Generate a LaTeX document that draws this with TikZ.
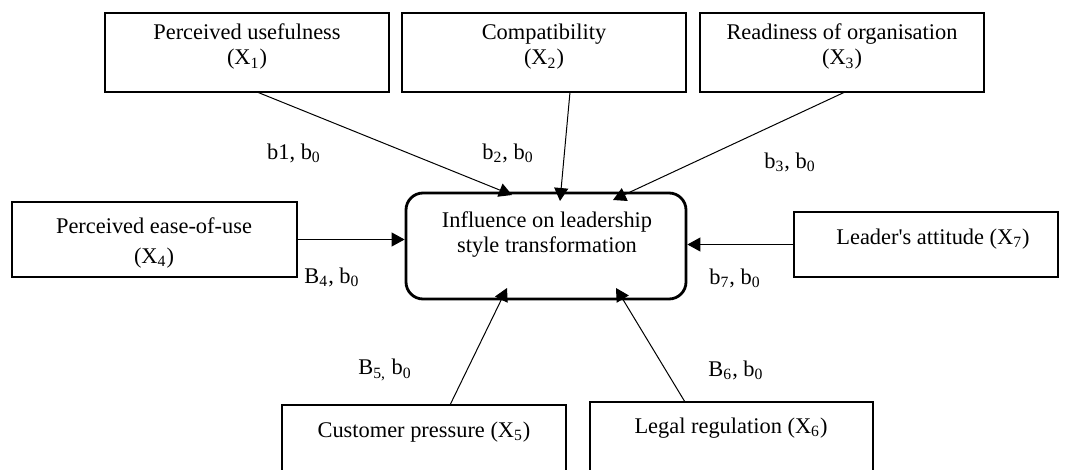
\documentclass[tikz,border=0pt]{standalone}
\usepackage{fontspec}
\setmainfont{Liberation Serif}[Ligatures=TeXOff]
\usetikzlibrary{arrows.meta,fit}
\begin{document}
\begin{tikzpicture}[x=0.5pt,y=-0.5pt,
  box/.style={draw, line width=0.9pt, inner sep=0pt},
  core/.style={draw, line width=1.4pt, rounded corners=8.5pt, inner sep=0pt},
  txt/.style={inner sep=0pt, font=\fontsize{11.2}{12.5}\selectfont, align=center},
  arr/.style={-{Triangle[length=6.5pt,width=7pt]}, line width=0.5pt}]
\useasboundingbox (0,0) rectangle (1065,470);
\clip (0,0) rectangle (1065,470);
% boxes
\node[box, fit={(105,13) (389,92)}] (b1) {};
\node[box, fit={(402,13) (686,92)}] (b2) {};
\node[box, fit={(700,13) (984,92)}] (b3) {};
\node[box, fit={(12,202) (297,277)}] (b4) {};
\node[core, fit={(406,193) (686,299)}] (c) {};
\node[box, fit={(794,212) (1058,277)}] (b7) {};
\node[box, fit={(282,405) (566,490)}] (b5) {};
\node[box, fit={(590,402) (873,490)}] (b6) {};
% texts
\node[txt] (t1) at (247,47) {Perceived usefulness\\(X\textsubscript{1})};
\node[txt] (t2) at (544,47) {Compatibility\\(X\textsubscript{2})};
\node[txt] (t3) at (842,47) {Readiness of organisation\\(X\textsubscript{3})};
\node[txt] (t4) at (154,243) {Perceived ease-of-use\\[2.5pt](X\textsubscript{4})};
\node[txt] (tc) at (547,235) {Influence on leadership\\style transformation};
\node[txt] (t7) at (933,239) {Leader's attitude (X\textsubscript{7})};
\node[txt] (t5) at (424,432) {Customer pressure (X\textsubscript{5})};
\node[txt] (t6) at (731,428) {Legal regulation (X\textsubscript{6})};
% connector ends
\coordinate (s1) at (257,92);
\coordinate (e1) at (512,195);
\coordinate (s2) at (570,92);
\coordinate (e2) at (560,201);
\coordinate (s3) at (845,92);
\coordinate (e3) at (613,200);
\coordinate (s5) at (450,405);
\coordinate (e5) at (507,288);
\coordinate (s6) at (685,402);
\coordinate (e6) at (616,288);
% connectors
\draw[arr] (s1) -- (e1);
\draw[arr] (s2) -- (e2);
\draw[arr] (s3) -- (e3);
\draw[arr] (b4.east) -- (b4.east -| c.west);
\draw[arr] (b7.west) -- (b7.west -| c.east);
\draw[arr] (s5) -- (e5);
\draw[arr] (s6) -- (e6);
% labels
\node[txt] (l1) at (294,153) {b1, b\textsubscript{0}};
\node[txt] (l2) at (508,153) {b\textsubscript{2}, b\textsubscript{0}};
\node[txt] (l3) at (790,162) {b\textsubscript{3}, b\textsubscript{0}};
\node[txt] (l4) at (332,277) {B\textsubscript{4}, b\textsubscript{0}};
\node[txt] (l7) at (735,278) {b\textsubscript{7}, b\textsubscript{0}};
\node[txt] (l5) at (385,370) {B\textsubscript{5,} b\textsubscript{0}};
\node[txt] (l6) at (736,370) {B\textsubscript{6}, b\textsubscript{0}};
\end{tikzpicture}
\end{document}
